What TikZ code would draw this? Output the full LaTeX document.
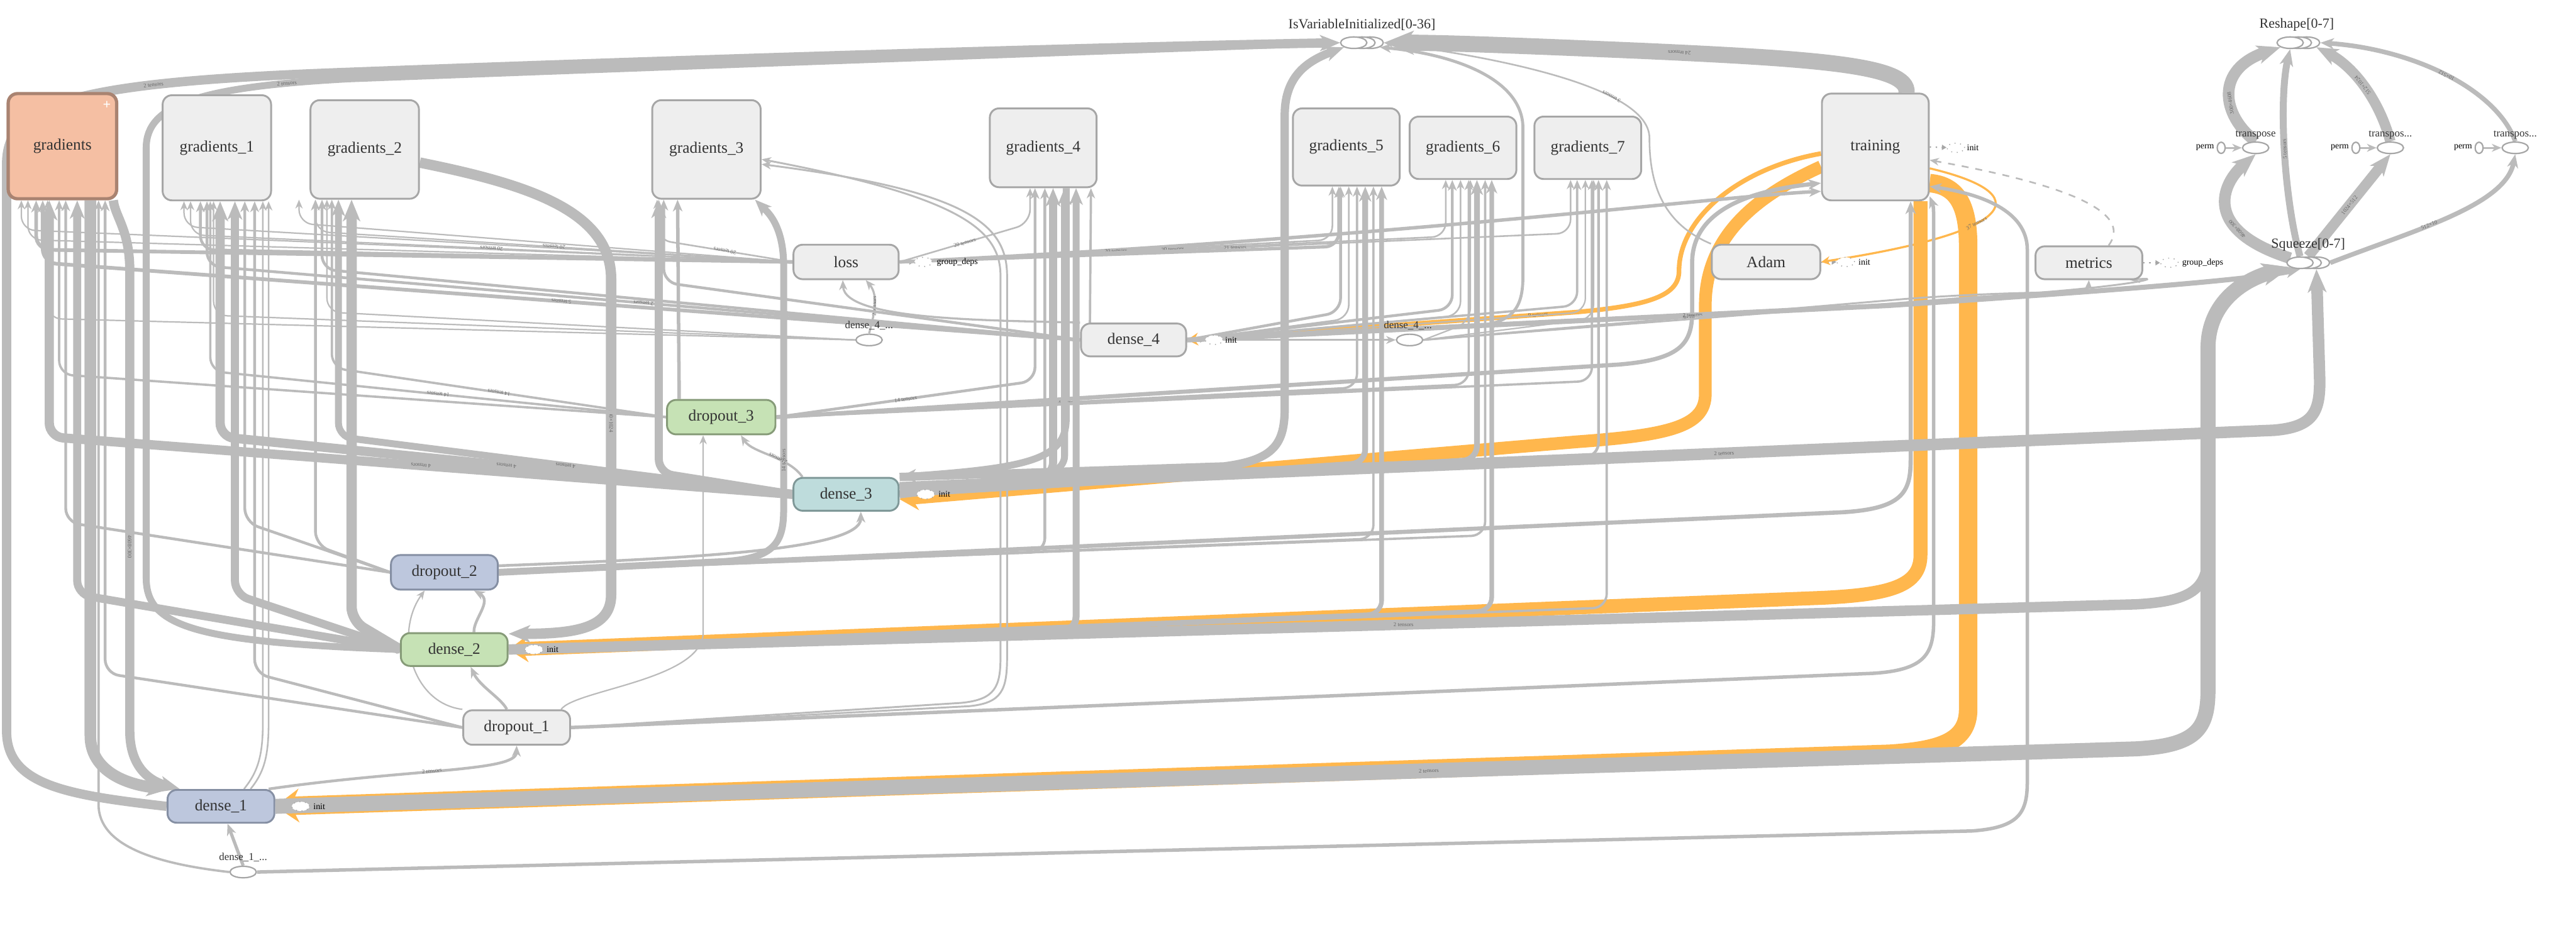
\documentclass[tikz,border=0pt]{standalone}
\usepackage{fontspec}
\setmainfont{Liberation Serif}
\usepackage{tikz}
\usetikzlibrary{arrows.meta,positioning,shapes.geometric,calc}
\pgfdeclarelayer{bg}
\pgfsetlayers{bg,main}
\definecolor{EdgeGray}  {HTML}{BBBBBB}
\definecolor{RefOrange} {HTML}{FFB74D}
\definecolor{GrpFill}   {HTML}{EEEEEE}
\definecolor{GrpLine}   {HTML}{A6A6A6}
\definecolor{GradFill}  {HTML}{F5BFA3}
\definecolor{GradLine}  {HTML}{A98371}
\definecolor{BlueFill}  {HTML}{BDC7DD}
\definecolor{BlueLine}  {HTML}{858FA3}
\definecolor{GreenFill} {HTML}{C6E2B5}
\definecolor{GreenLine} {HTML}{869B78}
\definecolor{TealFill}  {HTML}{BEDCDC}
\definecolor{TealLine}  {HTML}{7F9898}
\definecolor{NodeText}  {HTML}{333333}
\definecolor{LabelText} {HTML}{666666}
\newcommand{\grpfont}{\fontsize{6.9}{8}\selectfont}
\newcommand{\stackfont}{\fontsize{6}{7}\selectfont}
\newcommand{\oplblfont}{\fontsize{4.6}{5}\selectfont}
\newcommand{\auxfont}{\fontsize{3.8}{4}\selectfont}
\newcommand{\edgefont}{\fontsize{2.4}{2.6}\selectfont}
\tikzset{
  grp/.style={draw=GrpLine, fill=GrpFill, line width=0.8pt, rounded corners=4pt,
              inner sep=0pt, font=\grpfont, text=NodeText},
  gradgrp/.style={grp, draw=GradLine, fill=GradFill, line width=1.4pt},
  bluegrp/.style={grp, draw=BlueLine, fill=BlueFill},
  greengrp/.style={grp, draw=GreenLine, fill=GreenFill},
  tealgrp/.style={grp, draw=TealLine, fill=TealFill},
  opnode/.style={ellipse, draw=GrpLine, fill=white, line width=0.6pt,
                 minimum width=0.4cm, minimum height=0.175cm, inner sep=0pt},
  auxnode/.style={ellipse, draw=GrpLine, dotted, fill=white, line width=0.4pt,
                  minimum width=0.27cm, minimum height=0.14cm, inner sep=0pt},
  permnode/.style={ellipse, draw=GrpLine, fill=white, line width=0.6pt,
                   minimum width=0.12cm, minimum height=0.17cm, inner sep=0pt},
  stacklabel/.style={font=\stackfont, text=NodeText, inner sep=0pt},
  oplabel/.style={font=\oplblfont, text=NodeText, inner sep=0pt},
  auxlabel/.style={font=\auxfont, text=black, inner sep=0pt, anchor=west},
  flow/.style={draw=EdgeGray, line cap=butt,
               -{Stealth[length=3pt 1.4, width=2.5pt 1.1, inset=1pt 0.35]}},
  refflow/.style={draw=RefOrange, line cap=butt,
                  -{Stealth[length=3pt 0.9, width=2.5pt 1.5, inset=1pt 0.3]}},
  tieflow/.style={draw=GrpLine, dotted, line width=0.6pt,
                  -{Triangle[length=2pt, width=2.2pt]}},
  lbl/.style={font=\edgefont, text=LabelText, sloped, allow upside down, inner sep=0.3pt},
}
% riser into the bottom of a gradients block
\newcommand{\gin}[5]{\draw[flow, rounded corners=6pt, line width=#5]
  (#1) -- (#2,#3) -- (#2,#3 |- #4.south);}
\newcommand{\ginl}[6]{\draw[flow, rounded corners=6pt, line width=#5]
  (#1) -- node[lbl, pos=0.5]{#6} (#2,#3) -- (#2,#3 |- #4.south);}

\begin{document}
\begin{tikzpicture}[x=0.025cm, y=-0.025cm]
  \useasboundingbox (0,0) rectangle (1568,574);

  % groups
  \node[gradgrp, minimum width=1.65cm, minimum height=1.6cm] (gradients) at (38,89) {gradients};
  \node[font=\bfseries\fontsize{6}{6}\selectfont, text=white, inner sep=0pt] (gradplus) at (65,64) {+};
  \node[grp, minimum width=1.65cm, minimum height=1.6cm]   (gradients_1) at (132,90)   {gradients\_1};
  \node[grp, minimum width=1.65cm, minimum height=1.5cm]   (gradients_2) at (222,91)   {gradients\_2};
  \node[grp, minimum width=1.65cm, minimum height=1.5cm]   (gradients_3) at (430,91)   {gradients\_3};
  \node[grp, minimum width=1.625cm, minimum height=1.2cm]  (gradients_4) at (635,90)   {gradients\_4};
  \node[grp, minimum width=1.625cm, minimum height=1.175cm](gradients_5) at (819.5,89.5) {gradients\_5};
  \node[grp, minimum width=1.625cm, minimum height=0.95cm] (gradients_6) at (890.5,90) {gradients\_6};
  \node[grp, minimum width=1.625cm, minimum height=0.95cm] (gradients_7) at (966.5,90) {gradients\_7};
  \node[grp, minimum width=1.625cm, minimum height=1.625cm](training)    at (1141.5,89.5) {training};
  \node[grp, minimum width=1.6cm, minimum height=0.525cm]  (loss)        at (515,159.5) {loss};
  \node[grp, minimum width=1.65cm, minimum height=0.525cm] (Adam)        at (1075,159.5) {Adam};
  \node[grp, minimum width=1.625cm, minimum height=0.5cm]  (metrics)     at (1271.5,160) {metrics};
  \node[grp, minimum width=1.6cm, minimum height=0.5cm]    (dense_4)     at (690,207)   {dense\_4};
  \node[greengrp, minimum width=1.65cm, minimum height=0.525cm] (dropout_3) at (439,254) {dropout\_3};
  \node[tealgrp, minimum width=1.6cm, minimum height=0.5cm]    (dense_3)   at (515,301) {dense\_3};
  \node[bluegrp, minimum width=1.625cm, minimum height=0.525cm] (dropout_2) at (270.5,348.5) {dropout\_2};
  \node[greengrp, minimum width=1.625cm, minimum height=0.5cm] (dense_2)   at (276.5,395.5) {dense\_2};
  \node[grp, minimum width=1.625cm, minimum height=0.525cm]    (dropout_1) at (314.5,443) {dropout\_1};
  \node[bluegrp, minimum width=1.625cm, minimum height=0.5cm]  (dense_1)   at (134.5,491) {dense\_1};

  % op stacks and single ops
  \node[opnode] (isv3) at (834,26) {};
  \node[opnode] (isv2) at (829,26) {};
  \node[opnode] (isv1) at (824,26) {};
  \node[stacklabel] (isvlbl) at (829,15) {IsVariableInitialized[0-36]};
  \node[opnode] (rs3) at (1404,26) {};
  \node[opnode] (rs2) at (1399,26) {};
  \node[opnode] (rs1) at (1394,26) {};
  \node[stacklabel] (rslbl) at (1398,15) {Reshape[0-7]};
  \node[opnode] (sq3) at (1410,160) {};
  \node[opnode] (sq2) at (1405,160) {};
  \node[opnode] (sq1) at (1400,160) {};
  \node[stacklabel] (sqlbl) at (1405,149) {Squeeze[0-7]};
  \node[opnode] (tr1) at (1373,90) {};
  \node[opnode] (tr2) at (1455,90) {};
  \node[opnode] (tr3) at (1531,90) {};
  \node[oplabel] (tr1lbl) at (1373,82) {transpose};
  \node[oplabel] (tr2lbl) at (1455,82) {transpos...};
  \node[oplabel] (tr3lbl) at (1531,82) {transpos...};
  \node[permnode] (pm1) at (1352,90) {};
  \node[permnode] (pm2) at (1434,90) {};
  \node[permnode] (pm3) at (1509,90) {};
  \node[auxlabel, anchor=east] (pm1lbl) at (1348,90) {perm};
  \node[auxlabel, anchor=east] (pm2lbl) at (1430,90) {perm};
  \node[auxlabel, anchor=east] (pm3lbl) at (1505,90) {perm};
  \node[opnode] (d4op) at (529,207) {};
  \node[oplabel] (d4oplbl) at (529,198) {dense\_4\_...};
  \node[opnode] (d4op2) at (858,207) {};
  \node[oplabel] (d4op2lbl) at (857,198) {dense\_4\_...};
  \node[opnode] (d1op) at (148,531) {};
  \node[oplabel] (d1oplbl) at (148,522) {dense\_1\_...};

  % init / group_deps
  \node[auxnode] (trinit)   at (1190.5,90)  {};
  \node[auxlabel] (trinitlbl) at (1197,90) {init};
  \node[auxnode] (lossdeps) at (562,159.5) {};
  \node[auxlabel] (lossdepslbl) at (570,159.5) {group\_deps};
  \node[auxnode] (adaminit) at (1123.5,159.5) {};
  \node[auxlabel] (adaminitlbl) at (1131,159.5) {init};
  \node[auxnode] (metdeps)  at (1320.5,160) {};
  \node[auxlabel] (metdepslbl) at (1328,160) {group\_deps};
  \node[auxnode] (d4init)   at (739,207) {};
  \node[auxlabel] (d4initlbl) at (745.5,207) {init};
  \node[auxnode] (d3init)   at (563.5,301) {};
  \node[auxlabel] (d3initlbl) at (571,301) {init};
  \node[auxnode] (d2init)   at (325,395.5) {};
  \node[auxlabel] (d2initlbl) at (332.5,395.5) {init};
  \node[auxnode] (d1init)   at (183,491) {};
  \node[auxlabel] (d1initlbl) at (190.5,491) {init};

  \begin{pgfonlayer}{bg}
    \fill[white] (0,0) rectangle (1568,574);

    % ties
    \draw[tieflow] (training.east) -- (trinit);
    \draw[tieflow] (loss.east) -- (lossdeps);
    \draw[tieflow] (Adam.east) -- (adaminit);
    \draw[tieflow] (metrics.east) -- (metdeps);
    \draw[tieflow] (dense_4.east) -- (d4init);
    \draw[tieflow] (dense_3.east) -- (d3init);
    \draw[tieflow] (dense_2.east) -- (d2init);
    \draw[tieflow] (dense_1.east) -- (d1init);

    % reference edges from training
    \draw[refflow, line width=8pt] ($(training.east)+(0,22)$) .. controls (1192,113) and (1198,126) .. (1198,150)
      -- (1198,432) .. controls (1198,452) and (1180,457) .. (1150,459) -- (dense_1.east);
    \draw[refflow, line width=6pt] ($(training.south)+(27.5,0)$) -- (1169,338) .. controls (1169,357) and (1150,362) .. (1110,364)
      -- (dense_2.east);
    \draw[refflow, line width=5.5pt] ($(training.west)+(0,12)$) .. controls (1072,118) and (1038,142) .. (1038,186)
      -- (1038,240) .. controls (1038,260) and (1015,265) .. (960,269) -- ($(dense_3.east)+(0,3)$);
    \draw[refflow, line width=2pt] ($(training.west)+(0,4)$) .. controls (1060,102) and (1022,132) .. (1022,165)
      .. controls (1022,180) and (1004,186) .. (960,190) -- node[lbl, pos=0.1, allow upside down=false]{9 tensors} (dense_4.east);
    \draw[refflow, line width=0.9pt] ($(training.east)+(0,13)$) .. controls (1240,118) and (1230,141) ..
      node[lbl, pos=0.6, allow upside down=false]{37 tensors} (Adam.east);

    % into IsVariableInitialized
    \draw[flow, line width=4pt] (dense_1.west) .. controls (40,484) and (4,478) .. (4,445) -- (4,100)
      .. controls (4,62) and (45,50) .. (212,44) node[lbl, pos=0.7]{2 tensors}
      .. controls (450,35) and (700,28) .. (isv1.west);
    \draw[flow, line width=3pt] (dense_2.west) .. controls (120,391) and (89,382) .. (89,352) -- (89,90)
      .. controls (89,64) and (120,53) .. (212,48) node[lbl, pos=0.85]{2 tensors}
      .. controls (450,39) and (700,30) .. (isv1.west);
    \draw[flow, line width=3.6pt] (dense_3.north east) -- (745,284) .. controls (776,280) and (782,270) .. (782,248)
      -- (782,70) .. controls (782,46) and (796,37) .. (isv1.south west);
    \draw[flow, line width=7pt] ($(training.north)+(19,0)$) .. controls (1162,40) and (1110,36) .. (1000,31)
      node[lbl, pos=0.93]{24 tensors} .. controls (930,28) and (880,26) .. (isv3.east);
    \draw[flow, line width=1.3pt] (dense_4.east) -- (895,199) .. controls (921,197) and (927,188) .. (927,168)
      -- (927,78) .. controls (927,48) and (885,33) .. (isv3.south east);
    \draw[flow, line width=0.7pt] (Adam.north west) .. controls (1012,136) and (1004,112) .. (1004,84)
      .. controls (1004,52) and (905,34) .. node[lbl, pos=0.3]{3 tensors} (isv3.east);

    % into training
    \draw[flow, line width=1.8pt] (dropout_3.east) -- (985,222) .. controls (1022,219) and (1030,210) .. (1030,190)
      -- (1030,160) .. controls (1030,128) and (1065,116) .. ($(training.west)+(0,22)$);
    \draw[flow, line width=1.5pt] (loss.east) .. controls (850,145) and (1040,120) .. ($(training.west)+(0,27)$);
    \draw[flow, line width=1.8pt] (dropout_2.east) -- (1120,312) .. controls (1158,310) and (1163,300) .. (1163,280)
      -- ($(training.south)+(21.5,0)$);
    \draw[flow, line width=1.5pt] (dropout_1.east) -- (1140,410) .. controls (1172,408) and (1177,398) .. (1177,378)
      -- (1177,140) .. controls (1177,126) .. ($(training.east)+(0,30)$);
    \draw[flow, line width=1.5pt] (d1op.east) -- (1200,506) .. controls (1229,504) and (1234,495) .. (1234,476)
      -- (1234,152) .. controls (1234,128) and (1205,118) .. ($(training.east)+(0,24)$);
    \draw[flow, dashed, line width=0.7pt] ($(metrics.north)+(12,0)$) .. controls (1298,130) and (1262,113) ..
      ($(training.east)+(0,8)$);

    % into Squeeze and metrics
    \draw[flow, line width=6.5pt] (dense_1.east) -- node[lbl, pos=0.62]{2 tensors} (1300,456)
      .. controls (1337,454) and (1344,444) .. (1344,420) -- (1344,212) .. controls (1344,184) and (1366,170) .. (sq1.south west);
    \draw[flow, line width=4.5pt] (dense_2.east) -- node[lbl, pos=0.55]{2 tensors} (1300,368)
      .. controls (1337,366) and (1344,357) .. (1344,335) -- (1344,212) .. controls (1344,184) and (1366,170) .. (sq1.south west);
    \draw[flow, line width=5pt] ($(dense_3.east)+(0,-4)$) -- node[lbl, pos=0.6]{2 tensors} (1384,262)
      .. controls (1408,260) and (1412,251) .. (1412,232) -- (sq3.south);
    \draw[flow, line width=2.2pt] (dense_4.east) -- node[lbl, pos=0.72]{2 tensors} (1150,186)
      .. controls (1300,176) and (1372,170) .. (sq1.south);
    \draw[flow, line width=0.8pt] (dense_4.east) -- (d4op2.west);
    \draw[flow, line width=0.8pt] (d4op2.east) -- node[lbl, pos=0.55]{9×10} (1160,182)
      .. controls (1240,176) and (1271,180) .. (metrics.south);
    \draw[flow, line width=0.8pt] (d4op2.east) -- (1200,181) .. controls (1300,175) and (1320,168) ..
      ($(metrics.south east)+(-8,0)$);

    % Squeeze -> transpose -> Reshape
    \draw[flow, line width=5pt] (sq1.north west) .. controls (1340,140) and (1352,112) .. node[lbl, pos=0.3]{4608×300} (tr1.south);
    \draw[flow, line width=5pt] (tr1.north) .. controls (1352,70) and (1348,42) .. node[lbl, pos=0.4]{300×4608} (rs1.south west);
    \draw[flow, line width=3pt] (sq1.north) .. controls (1390,120) and (1387,60) .. node[lbl, pos=0.5]{5 tensors} (rs1.south);
    \draw[flow, line width=4.5pt] (sq2.north) -- node[lbl, midway]{1024×512} (tr2.south);
    \draw[flow, line width=4.5pt] (tr2.north) .. controls (1448,60) and (1432,40) .. node[lbl, pos=0.5]{512×1024} (rs3.south east);
    \draw[flow, line width=2pt] (sq3.east) .. controls (1470,140) and (1525,125) .. node[lbl, pos=0.4]{512×10} (tr3.south);
    \draw[flow, line width=2pt] (tr3.north) .. controls (1520,55) and (1470,30) .. node[lbl, pos=0.5]{10×512} (rs3.east);
    \draw[flow, line width=0.8pt] (pm1.east) -- (tr1.west);
    \draw[flow, line width=0.8pt] (pm2.east) -- (tr2.west);
    \draw[flow, line width=0.8pt] (pm3.east) -- (tr3.west);

    % layers among themselves
    \draw[flow, line width=4.5pt] ($(gradients_2.east)+(0,8)$) .. controls (320,112) and (372,128) .. (372,170)
      -- node[lbl, pos=0.45]{300×1024} (372,362) .. controls (372,382) and (352,386) .. ($(dense_2.north east)+(0,1)$);
    \draw[flow, line width=3pt] (dropout_2.east) -- (440,342) .. controls (472,340) and (477,330) .. (477,310)
      -- node[lbl, pos=0.2]{14 tensors} (477,162) .. controls (477,136) and (466,128) .. ($(gradients_3.south east)+(-4,0)$);
    \draw[flow, line width=0.8pt] (dropout_1.east) -- (585,428) .. controls (606,426) and (609,418) .. (609,400)
      -- (609,168) .. controls (609,140) and (585,120) .. ($(gradients_3.east)+(0,6)$);
    \draw[flow, line width=0.8pt] (dropout_1.east) -- (590,430) .. controls (610,428) and (613,420) .. (613,400)
      -- (613,168) .. controls (613,136) and (588,116) .. ($(gradients_3.east)+(0,9)$);
    \draw[flow, line width=3pt] ($(gradients_4.south)+(14,0)$) -- (649,255) .. controls (649,280) and (625,285) .. (dense_3.north east);
    \draw[flow, line width=1pt] ($(dense_4.north west)+(6,0)$) -- ($(gradients_4.south east)+(-4,0)$);
    \draw[flow, line width=1.5pt] ($(dropout_3.north west)+(8,0)$) -- ($(gradients_3.south west)+(16,0)$);
    \draw[flow, line width=1pt] ($(dense_3.north west)+(6,0)$) .. controls (480,278) and (458,276) ..
      node[lbl, pos=0.4]{2 tensors} ($(dropout_3.south)+(12,0)$);
    \draw[flow, line width=0.6pt] ($(dropout_1.north east)+(-6,0)$) .. controls (350,420) and (428,414) .. (428,385)
      -- ($(dropout_3.south)+(-11,0)$);
    \draw[flow, line width=1.2pt] ($(dropout_2.east)+(0,-4)$) .. controls (420,340) and (524,335) .. ($(dense_3.south)+(9,0)$);
    \draw[flow, line width=1.2pt] ($(dense_2.north)+(12,0)$) .. controls (288,377) and (300,366) .. ($(dropout_2.south)+(18,0)$);
    \draw[flow, line width=0.6pt] (dropout_1.north west) .. controls (250,428) and (240,385) .. ($(dropout_2.south)+(-12,0)$);
    \draw[flow, line width=1.2pt] ($(dropout_1.north)+(-6,0)$) .. controls (305,425) and (292,418) .. ($(dense_2.south)+(10,0)$);
    \draw[flow, line width=1.2pt] ($(dense_1.north east)+(-4,0)$) .. controls (250,468) and (314,470) ..
      node[lbl, pos=0.45]{2 tensors} (dropout_1.south);
    \draw[flow, line width=1.4pt] (d1op.north) -- ($(dense_1.south)+(4,0)$);
    \draw[flow, line width=1pt] (d1op.west) .. controls (95,526) and (60,515) .. (60,490) -- (60,490 |- gradients.south);
    \draw[flow, line width=5pt] ($(gradients.south)+(17,0)$) -- (55,448) .. controls (55,470) and (78,478) ..
      ($(dense_1.north west)+(2,0)$);
    \draw[flow, line width=4pt] ($(gradients.south east)+(-3,0)$) .. controls (70,132) and (79,140) .. (79,165)
      -- node[lbl, pos=0.6]{4608×300} (79,445) .. controls (79,468) and (92,476) .. ($(dense_1.north west)+(8,0)$);
    \draw[flow, line width=0.7pt] ($(dense_1.north)+(14,0)$) .. controls (157,470) and (160,460) .. (160,440)
      -- (160,440 |- gradients_1.south);
    \draw[flow, line width=0.7pt] ($(dense_1.north)+(18,0)$) .. controls (161,470) and (163.5,460) .. (163.5,440)
      -- (163.5,440 |- gradients_1.south);
    \draw[flow, line width=0.9pt] (d4op.north) .. controls (532,192) and (535,180) .. node[lbl, pos=0.5]{2 tensors}
      ($(loss.south)+(12,0)$);
    \draw[flow, line width=0.9pt] (dense_4.north west) .. controls (600,195) and (514,195) .. ($(loss.south)+(-2,0)$);

    % risers into the gradients blocks
    \foreach \xr/\yc/\tg/\wd in {13/140/gradients/0.6pt, 17/146/gradients/0.6pt, 22/152/gradients/1.6pt,
        112/138/gradients_1/0.6pt, 122/152/gradients_1/1.2pt, 182/136/gradients_2/0.6pt}
      {\gin{loss.west}{\xr}{\yc}{\tg}{\wd}}
    \ginl{loss.west}{116}{143}{gradients_1}{0.6pt}{20 tensors}
    \ginl{loss.west}{192}{141}{gradients_2}{0.6pt}{20 tensors}
    \ginl{loss.west}{400}{146}{gradients_3}{0.7pt}{20 tensors}
    \ginl{loss.east}{627}{136}{gradients_4}{0.7pt}{20 tensors}
    \ginl{loss.east}{811}{146}{gradients_5}{0.7pt}{20 tensors}
    \ginl{loss.east}{880}{144}{gradients_6}{0.7pt}{20 tensors}
    \ginl{loss.east}{956}{142}{gradients_7}{0.7pt}{21 tensors}
    \gin{loss.east}{815}{150}{gradients_5}{1.4pt}

    \ginl{dense_4.west}{26}{160}{gradients}{1.6pt}{5 tensors}
    \ginl{dense_4.west}{126}{162}{gradients_1}{1.2pt}{2 tensors}
    \gin{dense_4.west}{196}{164}{gradients_2}{1.2pt}
    \gin{dense_4.west}{404}{172}{gradients_3}{1.2pt}
    \foreach \xr/\yc/\tg/\wd in {816/190/gradients_5/1.2pt, 821/194/gradients_5/0.7pt, 884/188/gradients_6/1.2pt,
        889/192/gradients_6/0.7pt, 960/186/gradients_7/1pt, 965/190/gradients_7/0.6pt}
      {\gin{dense_4.east}{\xr}{\yc}{\tg}{\wd}}
    \foreach \xr/\yc/\tg/\wd in {29/194/gradients/0.6pt, 130/192/gradients_1/0.6pt, 199/190/gradients_2/0.6pt}
      {\gin{d4op.west}{\xr}{\yc}{\tg}{\wd}}
    \foreach \xr/\yc/\tg/\wd in {895/196/gradients_6/0.6pt, 970/194/gradients_7/0.6pt}
      {\gin{d4op2.east}{\xr}{\yc}{\tg}{\wd}}

    \gin{dropout_3.west}{36}{228}{gradients}{1pt}
    \ginl{dropout_3.west}{128}{226}{gradients_1}{1pt}{14 tensors}
    \ginl{dropout_3.west}{202}{224}{gradients_2}{1pt}{14 tensors}
    \ginl{dropout_3.east}{630}{232}{gradients_4}{1.2pt}{14 tensors}
    \ginl{dropout_3.east}{826}{236}{gradients_5}{1pt}{14 tensors}
    \gin{dropout_3.east}{894}{234}{gradients_6}{1pt}
    \gin{dropout_3.east}{969}{232}{gradients_7}{1pt}

    \ginl{dense_3.west}{30}{266}{gradients}{4pt}{4 tensors}
    \ginl{dense_3.west}{134}{266}{gradients_1}{4pt}{4 tensors}
    \ginl{dense_3.west}{206}{266}{gradients_2}{3pt}{4 tensors}
    \gin{dense_3.west}{401}{288}{gradients_3}{3.5pt}
    \foreach \xr/\yc/\tg/\wd in {641/290/gradients_4/3.5pt, 648/286/gradients_4/3pt, 831/282/gradients_5/2.5pt,
        899/280/gradients_6/2.5pt, 973/278/gradients_7/1.2pt}
      {\gin{dense_3.east}{\xr}{\yc}{\tg}{\wd}}

    \foreach \xr/\yc/\tg/\wd in {40/318/gradients/1.2pt, 149/318/gradients_1/1.2pt, 192/332/gradients_2/1.2pt}
      {\gin{dropout_2.west}{\xr}{\yc}{\tg}{\wd}}
    \foreach \xr/\yc/\tg/\wd in {636/336/gradients_4/1.2pt, 836/328/gradients_5/1pt, 904/326/gradients_6/1pt}
      {\gin{dropout_2.east}{\xr}{\yc}{\tg}{\wd}}

    \foreach \xr/\yc/\tg/\wd in {47/362/gradients/3.5pt, 143/362/gradients_1/3.5pt, 214/378/gradients_2/4.5pt}
      {\gin{dense_2.west}{\xr}{\yc}{\tg}{\wd}}
    \foreach \xr/\yc/\tg/\wd in {655/384/gradients_4/3pt, 841/374/gradients_5/2pt, 908/372/gradients_6/2pt,
        978/370/gradients_7/1pt}
      {\gin{dense_2.east}{\xr}{\yc}{\tg}{\wd}}

    \foreach \xr/\yc/\tg/\wd in {64/410/gradients/1.2pt, 155/410/gradients_1/1.2pt}
      {\gin{dropout_1.west}{\xr}{\yc}{\tg}{\wd}}
  \end{pgfonlayer}
\end{tikzpicture}
\end{document}
